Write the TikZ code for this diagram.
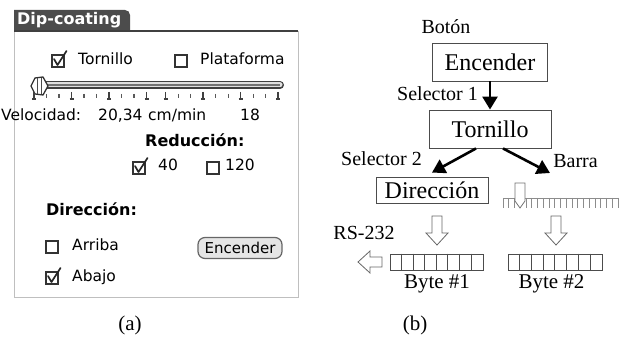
\documentclass[tikz,border=0pt]{standalone}
\usepackage{fontspec}
\setmainfont{Liberation Serif}
\newfontfamily\palmfont{DejaVu Sans}
\usetikzlibrary{arrows.meta,positioning}

\tikzset{
  palm/.style={font=\palmfont\fontsize{15.5}{18}\selectfont, anchor=west, inner sep=0pt, text height=11pt, text depth=3pt},
  palmbold/.style={palm, font=\palmfont\bfseries\fontsize{16}{19}\selectfont},
  chkbox/.style={draw=black!80, line width=1.4pt},
  chkmark/.style={draw=black!85, line width=1.7pt, line cap=round, line join=round},
  blockbox/.style={draw=black!70, line width=0.9pt, inner sep=0pt, font=\fontsize{24}{28}\selectfont},
  lbl/.style={inner sep=0pt, font=\fontsize{20}{24}\selectfont},
  bigarrow/.style={line width=2.6pt, -{Triangle[length=13pt,width=15pt]}},
  hollow/.style={draw=black!60, line width=0.8pt, fill=white},
  cell/.style={draw=black!70, line width=0.7pt}
}

\begin{document}
\begin{tikzpicture}[x=1pt, y=-1pt]
\useasboundingbox (0,0) rectangle (626,347);

% (a) screen of the handheld
\fill[black!70] (14,31) |- (125,10) to[out=0,in=90] (130,15) -- (130,31) -- cycle;
\node[palmbold, text=white] (tabtitle) at (17,21) {Dip-coating};
\draw[black!25, line width=1pt] (14,31) -- (14,297) -- (298,297) -- (298,31);
\draw[black!75, line width=2pt] (14,31) -- (298,31);

\draw[chkbox] (52,55) rectangle (64,67);
\draw[chkmark] (54,59) -- (57.5,65) -- (66.5,51);
\node[palm] (tornilloA) at (78,61) {Tornillo};
\draw[chkbox] (175,55) rectangle (187,67);
\node[palm] (plataforma) at (200,61) {Plataforma};

% slider
\draw[black!75, line width=8pt, line cap=round] (40,85) -- (280,85);
\draw[black!12, line width=5pt, line cap=round] (40,85) -- (280,85);
\draw[black!55, line width=1.2pt] (40,85) -- (280,85);
\draw[black!80, fill=white, line width=1.3pt] (31,86) -- (35,78) -- (43,77) -- (48,86) -- (43,95) -- (35,94) -- cycle;
\draw[black!70, line width=1pt] (37.5,78) -- (37.5,94) (41,78) -- (41,94);
\foreach \g in {34,165.7} {
  \foreach \i in {0,3,6,9} {
    \draw[black!75, line width=1.5pt] (\g+12.5*\i,92) -- ++(0,7);
    \draw[black!75, line width=1.2pt] (\g+12.5*\i-2,99) -- ++(4,0);
  }
  \foreach \i in {1,2,4,5,7,8}
    \draw[black!65, line width=1.3pt] (\g+12.5*\i,94) -- ++(0,4);
}

\node[palm] (velocidad) at (1,117) {Velocidad:};
\node[palm] (valor) at (98,117) {20,34};
\node[palm] (unidad) at (148,117) {cm/min};
\node[palm] (dieciocho) at (240,117) {18};

\node[palmbold] (reduccion) at (145,143) {Reducción:};
\draw[chkbox] (133,162) rectangle (145,174);
\draw[chkmark] (135,166) -- (138.5,172) -- (147.5,158);
\node[palm] (cuarenta) at (158,167) {40};
\draw[chkbox] (207,162) rectangle (219,174);
\node[palm] (cientoveinte) at (225,167) {120};

\node[palmbold] (direccionA) at (46,212) {Dirección:};
\draw[chkbox] (46,241) rectangle (58,253);
\node[palm] (arriba) at (72,247) {Arriba};
\draw[chkbox] (46,272) rectangle (58,284);
\draw[chkmark] (48,276) -- (51.5,282) -- (60.5,268);
\node[palm] (abajo) at (72,277) {Abajo};

\node[draw=black!60, fill=black!10, line width=1.2pt, rounded corners=7pt,
      minimum width=84, minimum height=21, inner sep=0pt,
      font=\palmfont\fontsize{15}{17}\selectfont] (boton) at (240,248) {Encender};

\node[inner sep=0pt, font=\fontsize{21}{25}\selectfont] (capa) at (130,325) {(a)};

% (b) control structure
\node[lbl] (botonlbl) at (446,27) {Botón};
\node[blockbox, minimum width=115, minimum height=38] (encender) at (490,62) {Encender};
\node[blockbox, minimum width=122, minimum height=38] (tornillo) at (490,129) {Tornillo};
\node[blockbox, minimum width=112, minimum height=26] (direccion) at (432,190) {Dirección};
\node[lbl] (sel1) at (437.5,94) {Selector 1};
\node[lbl] (sel2) at (381.5,159) {Selector 2};
\node[lbl] (barra) at (575.5,161) {Barra};
\coordinate (barratip) at (550,173);

\draw[bigarrow] (encender) -- (tornillo);
\draw[bigarrow] ([xshift=-14pt]tornillo.south) -- ([yshift=4pt]direccion.north);
\draw[bigarrow] ([xshift=13pt]tornillo.south) -- (barratip);

% bar graphic
\draw[black!45, line width=0.8pt] (503,198) -- (618,198);
\foreach \i in {0,...,20}
  \draw[black!45, line width=0.7pt] (503+5.75*\i,198) -- ++(0,10);
\draw[black!55, fill=white, line width=0.8pt] (515,183) -- (525,183) -- (525,201) -- (520,208) -- (515,201) -- cycle;

% hollow arrows
\draw[hollow] (432,216) -- (442,216) -- (442,233) -- (448,233) -- (437,245) -- (426,233) -- (432,233) -- cycle;
\draw[hollow] (551,216) -- (561,216) -- (561,233) -- (567,233) -- (556,245) -- (545,233) -- (551,233) -- cycle;
\draw[hollow] (382,257) -- (370,257) -- (370,251) -- (358,262) -- (370,273) -- (370,267) -- (382,267) -- cycle;

% registers
\node[cell, minimum width=93, minimum height=16, inner sep=0pt] (byteA) at (436.5,262) {};
\node[cell, minimum width=94, minimum height=16, inner sep=0pt] (byteB) at (555,262) {};
\foreach \i in {1,...,7} {
  \draw[cell] ([xshift=11.625*\i]byteA.north west) -- ([xshift=11.625*\i]byteA.south west);
  \draw[cell] ([xshift=11.75*\i]byteB.north west) -- ([xshift=11.75*\i]byteB.south west);
}
\node[lbl] (rs) at (364,233) {RS-232};
\node[lbl, font=\fontsize{21}{25}\selectfont] (byteAlbl) at (437,284) {Byte \#1};
\node[lbl, font=\fontsize{21}{25}\selectfont] (byteBlbl) at (551.5,284) {Byte \#2};

\node[inner sep=0pt, font=\fontsize{21}{25}\selectfont] (capb) at (415,325) {(b)};

\end{tikzpicture}
\end{document}
